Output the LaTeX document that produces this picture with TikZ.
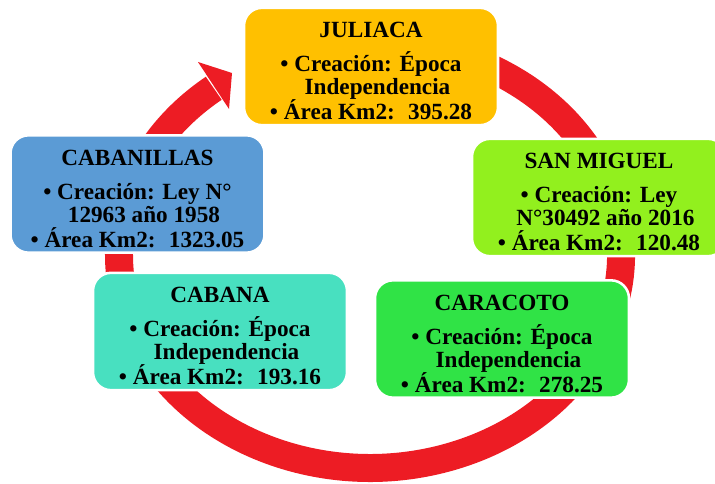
\documentclass[tikz,border=0pt]{standalone}
\usepackage{fontspec}
\setmainfont{Liberation Serif}
\definecolor{julcol}{HTML}{FFC000}
\definecolor{cablcol}{HTML}{5B9BD5}
\definecolor{sanmcol}{HTML}{92F01E}
\definecolor{cabacol}{HTML}{48E0C0}
\definecolor{caracol}{HTML}{30E346}
\definecolor{ringred}{HTML}{ED1C24}
\newcommand{\boxfont}{\bfseries\fontsize{17.4pt}{17.25pt}\selectfont\setlength{\lineskiplimit}{-30pt}}
\tikzset{
  box/.style={rectangle, rounded corners=13.5pt, minimum width=190.5pt,
    minimum height=88pt, inner sep=0pt, draw=white, line width=1.9pt,
    align=center, text=black, font=\boxfont},
  ring/.style={ringred, line width=21pt},
}
\newcommand{\ttl}[1]{\rule{0pt}{18.5pt}#1\\[8.25pt]}
\newcommand{\cont}{\hspace*{9.75pt}}
\newcommand{\area}[1]{\\[1.5pt]• Área Km2:\hspace{10pt}#1}
\begin{document}
\begin{tikzpicture}[x=0.75pt,y=-0.75pt]
\useasboundingbox (0,0) rectangle (715,484);
\clip (0,0) rectangle (715,484);
% ring
\coordinate (rs) at (284.15,54.8);
\draw[ring] (rs) arc[start angle=250, end angle=591.5, x radius=251, y radius=213];
\coordinate (hb1) at (198,62);
\coordinate (ht) at (232,73);
\coordinate (hb2) at (229,109);
\fill[ringred] (hb1) -- (ht) -- (hb2) -- cycle;
% nodes
\node[box, fill=julcol] (jul) at (371,66.5)
  {\ttl{JULIACA}• Creación: Época\\\cont Independencia\area{395.28}};
\node[box, fill=cablcol] (cabl) at (137.5,194)
  {\ttl{CABANILLAS}• Creación: Ley N°\\\cont 12963 año 1958\area{1323.05}};
\node[box, fill=sanmcol] (sanm) at (599,197.5)
  {\ttl{SAN MIGUEL}• Creación: Ley\\\cont N°30492 año 2016\area{120.48}};
\node[box, fill=cabacol] (caba) at (220,331.5)
  {\ttl{CABANA}• Creación: Época\\\cont Independencia\area{193.16}};
\node[box, fill=caracol] (cara) at (502,339)
  {\ttl{CARACOTO}• Creación: Época\\\cont Independencia\area{278.25}};
\end{tikzpicture}
\end{document}
